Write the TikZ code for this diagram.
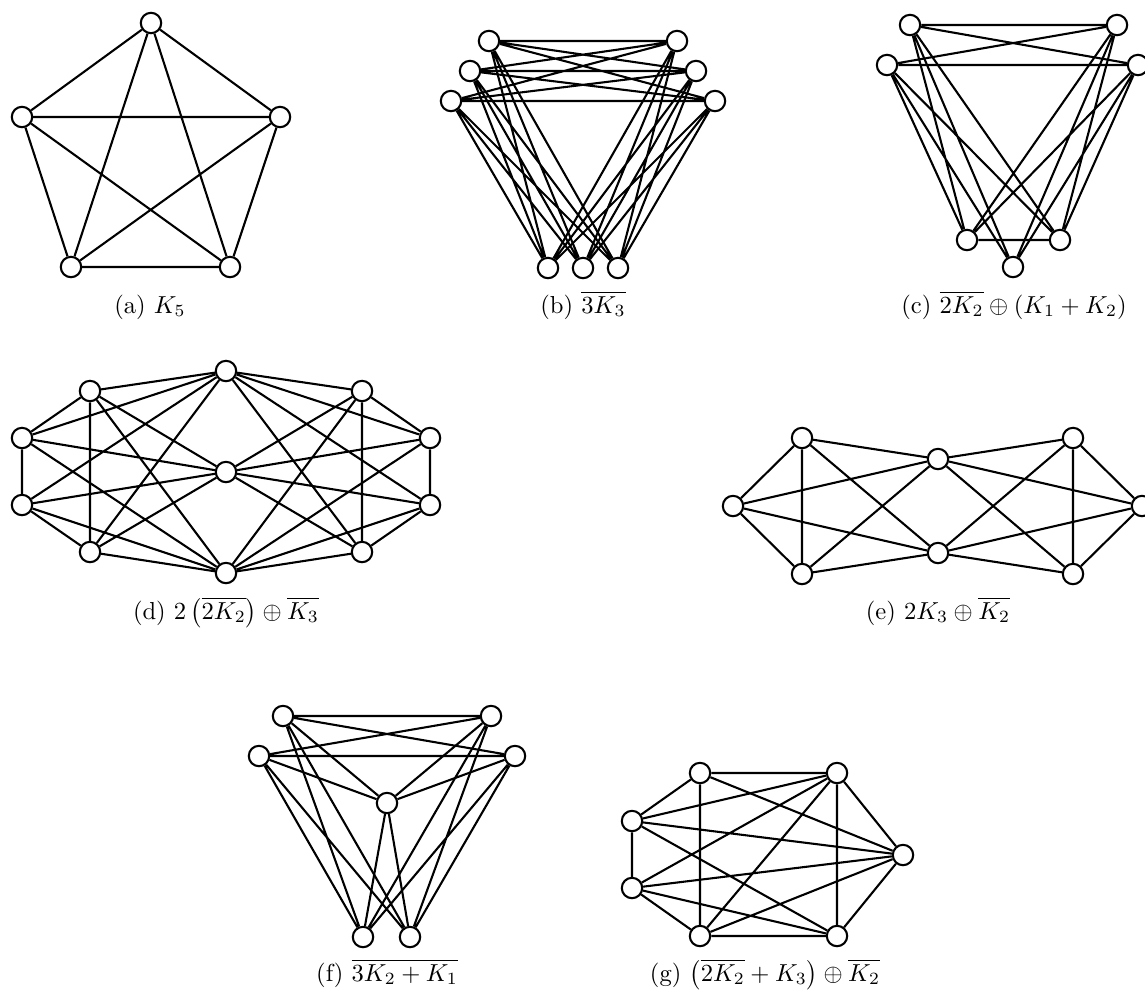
\documentclass[tikz,border=0pt]{standalone}
\tikzset{
  every picture/.style={line width=0.85pt},
  vertex/.style={draw, circle, fill=white, minimum size=8.3pt, inner sep=0pt},
  edge/.style={draw, line width=0.85pt},
  subcap/.style={anchor=base},
}
\begin{document}
\begin{tikzpicture}[x=0.407pt, y=-0.407pt]
  \useasboundingbox (0,0) rectangle (1145,991);
  % (a)
  \node[vertex] (a1) at (151,23) {};
  \node[vertex] (a2) at (22,117) {};
  \node[vertex] (a3) at (280,117) {};
  \node[vertex] (a4) at (71,267) {};
  \node[vertex] (a5) at (230,267) {};
  \draw[edge] (a1) -- (a2) (a1) -- (a3) (a1) -- (a4) (a1) -- (a5) (a2) -- (a3)
    (a2) -- (a4) (a2) -- (a5) (a3) -- (a4) (a3) -- (a5) (a4) -- (a5);
  \node[subcap] (capA) at (150,313) {(a) $K_5$};
  % (b)
  \node[vertex] (b1) at (489,41) {};
  \node[vertex] (b2) at (470,71) {};
  \node[vertex] (b3) at (451,101) {};
  \node[vertex] (b4) at (677,41) {};
  \node[vertex] (b5) at (696,71) {};
  \node[vertex] (b6) at (715,101) {};
  \node[vertex] (b7) at (548,268) {};
  \node[vertex] (b8) at (583,268) {};
  \node[vertex] (b9) at (618,268) {};
  \draw[edge] (b1) -- (b4) (b1) -- (b5) (b1) -- (b6) (b2) -- (b4) (b2) -- (b5) (b2) -- (b6)
    (b3) -- (b4) (b3) -- (b5) (b3) -- (b6);
  \draw[edge] (b1) -- (b7) (b1) -- (b8) (b1) -- (b9) (b2) -- (b7) (b2) -- (b8) (b2) -- (b9)
    (b3) -- (b7) (b3) -- (b8) (b3) -- (b9);
  \draw[edge] (b4) -- (b7) (b4) -- (b8) (b4) -- (b9) (b5) -- (b7) (b5) -- (b8) (b5) -- (b9)
    (b6) -- (b7) (b6) -- (b8) (b6) -- (b9);
  \node[subcap] (capB) at (583,313) {(b) $\overline{3K_3}$};
  % (c)
  \node[vertex] (c1) at (910,25) {};
  \node[vertex] (c2) at (1117,25) {};
  \node[vertex] (c3) at (887,65) {};
  \node[vertex] (c4) at (1138,65) {};
  \node[vertex] (c5) at (967,240) {};
  \node[vertex] (c6) at (1060,240) {};
  \node[vertex] (c7) at (1013,267) {};
  \draw[edge] (c1) -- (c2) (c1) -- (c4) (c3) -- (c4) (c3) -- (c2) (c5) -- (c6);
  \draw[edge] (c1) -- (c5) (c1) -- (c6) (c1) -- (c7) (c2) -- (c5) (c2) -- (c6) (c2) -- (c7)
    (c3) -- (c5) (c3) -- (c6) (c3) -- (c7) (c4) -- (c5) (c4) -- (c6) (c4) -- (c7);
  \node[subcap] (capC) at (1014,313) {(c) $\overline{2K_2} \oplus (K_1 + K_2)$};
  % (d)
  \node[vertex] (d1) at (226,371) {};
  \node[vertex] (d2) at (226,472) {};
  \node[vertex] (d3) at (226,573) {};
  \node[vertex] (d4) at (90,391) {};
  \node[vertex] (d5) at (22,438) {};
  \node[vertex] (d6) at (22,505) {};
  \node[vertex] (d7) at (90,552) {};
  \node[vertex] (d8) at (362,391) {};
  \node[vertex] (d9) at (430,438) {};
  \node[vertex] (d10) at (430,505) {};
  \node[vertex] (d11) at (362,552) {};
  \draw[edge] (d4) -- (d5) -- (d6) -- (d7) -- (d4) (d8) -- (d9) -- (d10) -- (d11) -- (d8);
  \draw[edge] (d4) -- (d1) (d4) -- (d2) (d4) -- (d3) (d5) -- (d1) (d5) -- (d2) (d5) -- (d3)
    (d6) -- (d1) (d6) -- (d2) (d6) -- (d3) (d7) -- (d1) (d7) -- (d2) (d7) -- (d3);
  \draw[edge] (d8) -- (d1) (d8) -- (d2) (d8) -- (d3) (d9) -- (d1) (d9) -- (d2) (d9) -- (d3)
    (d10) -- (d1) (d10) -- (d2) (d10) -- (d3) (d11) -- (d1) (d11) -- (d2) (d11) -- (d3);
  \node[subcap] (capD) at (226,619) {(d) $2\left(\overline{2K_2}\right) \oplus \overline{K_3}$};
  % (e)
  \node[vertex] (e1) at (802,438) {};
  \node[vertex] (e2) at (733,506) {};
  \node[vertex] (e3) at (802,574) {};
  \node[vertex] (e4) at (938,459) {};
  \node[vertex] (e5) at (938,553) {};
  \node[vertex] (e6) at (1073,438) {};
  \node[vertex] (e7) at (1142,506) {};
  \node[vertex] (e8) at (1073,574) {};
  \draw[edge] (e1) -- (e2) -- (e3) -- (e1) (e6) -- (e7) -- (e8) -- (e6);
  \draw[edge] (e1) -- (e4) (e1) -- (e5) (e2) -- (e4) (e2) -- (e5) (e3) -- (e4) (e3) -- (e5)
    (e6) -- (e4) (e6) -- (e5) (e7) -- (e4) (e7) -- (e5) (e8) -- (e4) (e8) -- (e5);
  \node[subcap] (capE) at (938,619) {(e) $2K_3 \oplus \overline{K_2}$};
  % (f)
  \node[vertex] (f1) at (283,716) {};
  \node[vertex] (f2) at (491,716) {};
  \node[vertex] (f3) at (259,756) {};
  \node[vertex] (f4) at (515,756) {};
  \node[vertex] (f5) at (387,803) {};
  \node[vertex] (f6) at (363,937) {};
  \node[vertex] (f7) at (410,937) {};
  \draw[edge] (f1) -- (f2) (f1) -- (f4) (f3) -- (f4) (f3) -- (f2);
  \draw[edge] (f1) -- (f6) (f1) -- (f7) (f2) -- (f6) (f2) -- (f7)
    (f3) -- (f6) (f3) -- (f7) (f4) -- (f6) (f4) -- (f7);
  \draw[edge] (f5) -- (f1) (f5) -- (f2) (f5) -- (f3) (f5) -- (f4) (f5) -- (f6) (f5) -- (f7);
  \node[subcap] (capF) at (387,981) {(f) $\overline{3K_2 + K_1}$};
  % (g)
  \node[vertex] (g1) at (700,773) {};
  \node[vertex] (g2) at (837,773) {};
  \node[vertex] (g3) at (632,821) {};
  \node[vertex] (g4) at (632,888) {};
  \node[vertex] (g5) at (700,936) {};
  \node[vertex] (g6) at (837,936) {};
  \node[vertex] (g7) at (903,855) {};
  \draw[edge] (g1) -- (g2) (g5) -- (g6) (g1) -- (g5) (g2) -- (g6) (g3) -- (g4)
    (g1) -- (g3) (g4) -- (g5) (g2) -- (g7) (g6) -- (g7) (g1) -- (g7);
  \draw[edge] (g3) -- (g2) (g3) -- (g7) (g3) -- (g6) (g4) -- (g2) (g4) -- (g7) (g4) -- (g6)
    (g5) -- (g2) (g5) -- (g7);
  \node[subcap] (capG) at (765,981) {(g) $\left(\overline{2K_2} + K_3\right) \oplus \overline{K_2}$};
\end{tikzpicture}
\end{document}
